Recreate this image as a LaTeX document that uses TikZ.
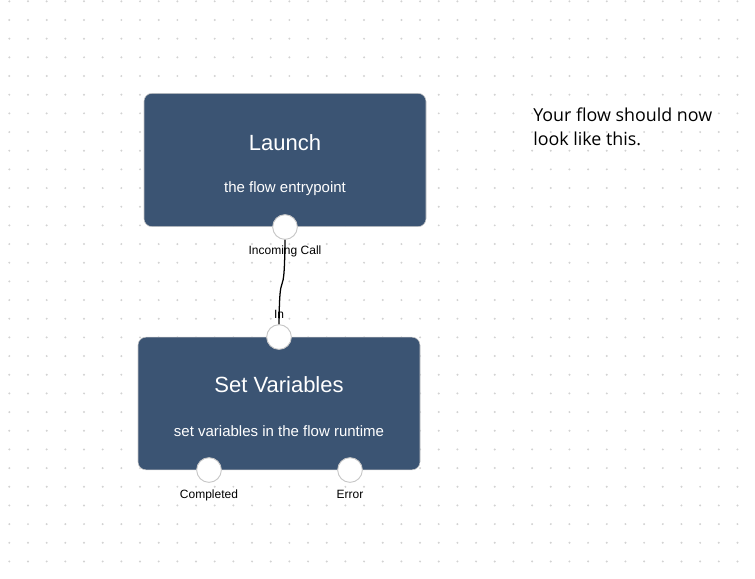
\documentclass[tikz,border=0pt]{standalone}
\usepackage{fontspec}
\setmainfont{Liberation Sans}
\newfontfamily\notefont{Open Sans}
\usetikzlibrary{positioning}

\definecolor{boxblue}{HTML}{3B5473}
\definecolor{griddot}{HTML}{D2D2D2}
\definecolor{portrim}{HTML}{C8C8C8}

\pgfdeclarelayer{grid}
\pgfdeclarelayer{wire}
\pgfsetlayers{grid,wire,main}

\tikzset{
  flowbox/.style={draw=portrim, fill=boxblue, rounded corners=6pt,
    minimum width=211.5pt, minimum height=100pt, inner sep=0pt},
  port/.style={circle, draw=portrim, fill=white, line width=0.7pt,
    minimum size=18.5pt, inner sep=0pt},
  boxtitle/.style={text=white, anchor=base, inner sep=0pt,
    font=\fontsize{16.5}{19}\selectfont},
  boxsub/.style={text=white, anchor=base, inner sep=0pt,
    font=\fontsize{11.25}{13}\selectfont},
  portlabel/.style={anchor=base, inner sep=0pt,
    font=\fontsize{9}{11}\selectfont},
  notetext/.style={anchor=base west, inner sep=0pt,
    font=\notefont\fontsize{13.4}{18}\selectfont},
}

\begin{document}
\begin{tikzpicture}[x=0.75pt,y=-0.75pt]
  \useasboundingbox (0,0) rectangle (755,578);
  \begin{pgfonlayer}{grid}
    \fill[white] (0,0) rectangle (755,578);
    % dotted canvas
    \foreach \i in {0,...,39}
      \foreach \j in {0,...,30}
        \fill[griddot] (9.33+18.67*\i,1.33+18.67*\j) circle (1.1);
  \end{pgfonlayer}

  % launch block
  \node[flowbox] (launch) at (285,160) {};
  \node[boxtitle] (launchtitle) at (285,150) {Launch};
  \node[boxsub]   (launchsub)   at (285,192) {the flow entrypoint};

  % set variables block
  \node[flowbox, minimum height=99.5pt] (setvars) at (279,403.5) {};
  \node[boxtitle] (setvarstitle) at (279,392) {Set Variables};
  \node[boxsub]   (setvarssub)   at (279,436) {set variables in the flow runtime};

  % ports
  \node[port] (callport) at (285,227) {};
  \node[port] (inport)   at (279,337) {};
  \node[port] (doneport) at (209,470) {};
  \node[port] (errport)  at (350,470) {};
  \node[portlabel] (calllabel) at (285,254) {Incoming Call};
  \node[portlabel] (inlabel)   at (279,318) {In};
  \node[portlabel] (donelabel) at (209,498) {Completed};
  \node[portlabel] (errlabel)  at (350,498) {Error};

  \begin{pgfonlayer}{wire}
    \draw[line width=0.95pt] (callport.center)
      .. controls +(0,95) and +(0,-90) .. (inport.center);
  \end{pgfonlayer}

  \node[notetext] (note1) at (533,121.5) {Your flow should now};
  \node[notetext] (note2) at (533,145.5) {look like this.};
\end{tikzpicture}
\end{document}
